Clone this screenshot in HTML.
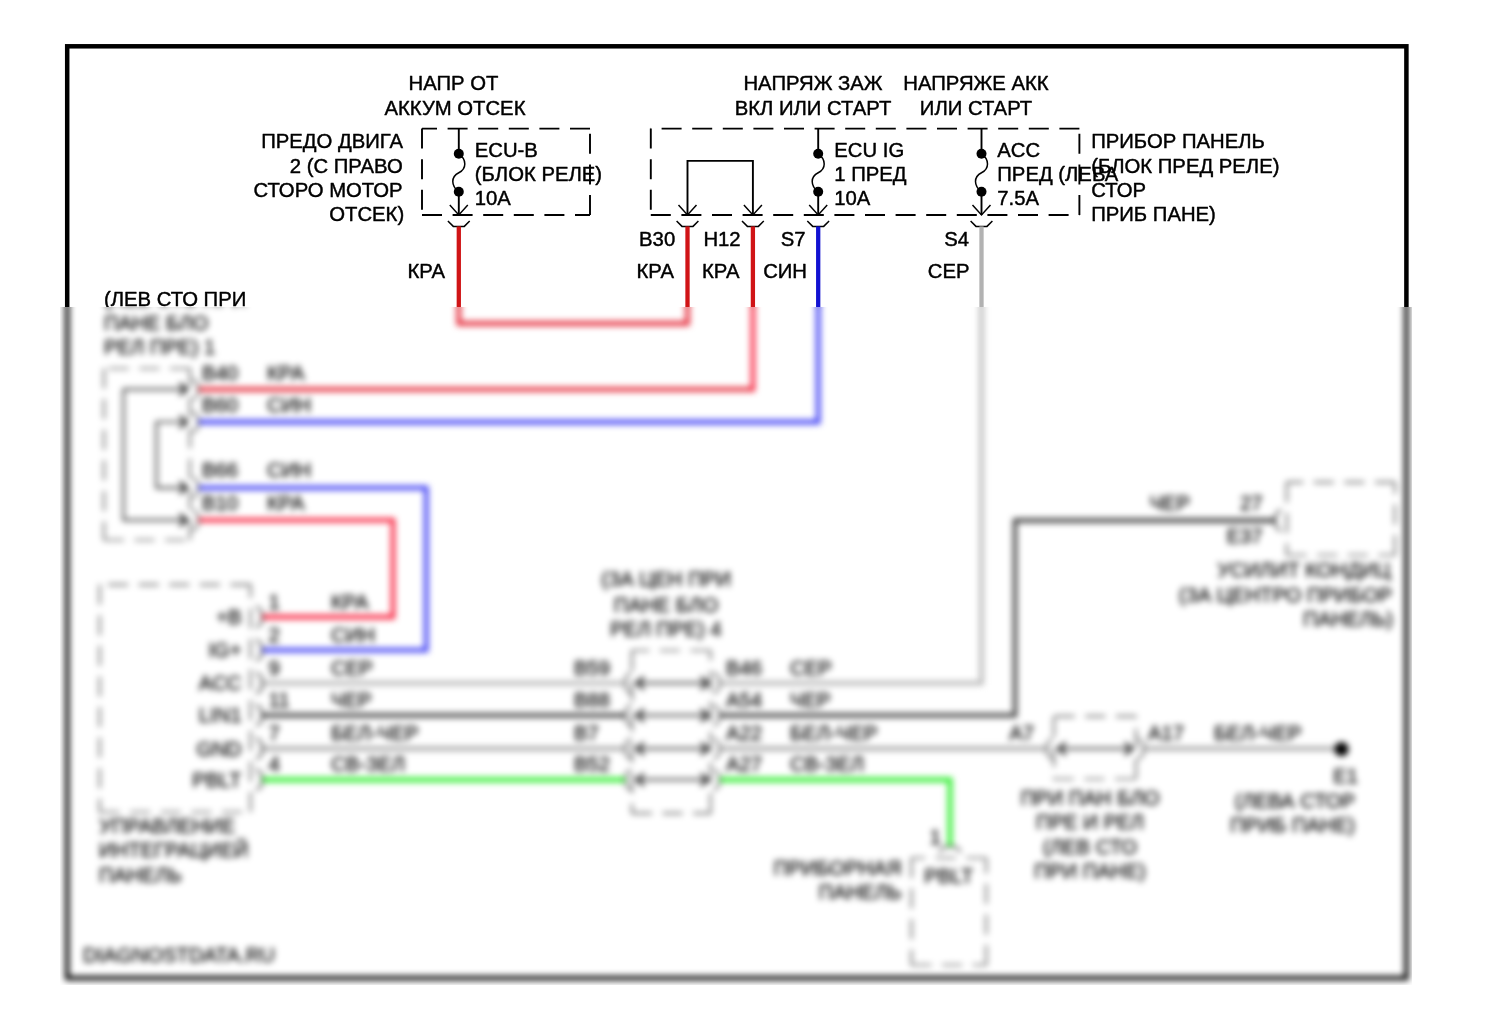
<!DOCTYPE html>
<html lang="ru">
<head>
<meta charset="utf-8">
<title>Схема электропроводки</title>
<style>
html,body{margin:0;padding:0;background:#fff}
body{width:1500px;height:1024px;overflow:hidden;position:relative}
svg{position:absolute;left:0;top:0;display:block}
text{font-family:"Liberation Sans",sans-serif;font-size:20.3px;fill:#000;stroke:#000;stroke-width:0.45px;stroke-linejoin:round}
path,line{fill:none}
.lo text{stroke-width:0.3px}
</style>
</head>
<body>
<svg width="1500" height="1024" viewBox="0 0 1500 1024">
<defs>
<filter id="frost" filterUnits="userSpaceOnUse" x="0" y="0" width="1500" height="1024" color-interpolation-filters="sRGB">
<feGaussianBlur in="SourceGraphic" stdDeviation="3.35" x="60" y="307" width="1352" height="678" result="b"/>
<feOffset in="SourceGraphic" dx="0" dy="0" x="0" y="0" width="1500" height="307" result="a"/>
<feMerge><feMergeNode in="b"/><feMergeNode in="a"/></feMerge>
</filter>
</defs>
<rect x="0" y="0" width="1500" height="1024" fill="#fff"/>
<g filter="url(#frost)">
<!-- lower part of the diagram (shown frosted) -->
<g class="lo">
<path d="M458.8,307 L458.8,323.5 L687.5,323.5 L687.5,307" stroke="#e42030" stroke-width="4.3" fill="none"/>
<path d="M198.2,389.3 L755.05,389.3" stroke="#e42030" stroke-width="4.3" fill="none"/>
<path d="M752.9,307 L752.9,391.45" stroke="#f8203c" stroke-width="4.3" fill="none"/>
<path d="M818.2,307 L818.2,422 L198.2,422" stroke="#3838f4" stroke-width="4.3" fill="none"/>
<path d="M198.2,487.8 L426.2,487.8 L426.2,650.2 L261.9,650.2" stroke="#3838f4" stroke-width="4.3" fill="none"/>
<path d="M198.2,520.1 L393,520.1 L393,617.0 L261.9,617.0" stroke="#f8203c" stroke-width="4.3" fill="none"/>
<path d="M981.5,307 L981.5,683.1 L719.4,683.1" stroke="#b6b6b6" stroke-width="4.3" fill="none"/>
<path d="M261.9,683.1 L625.4,683.1" stroke="#b6b6b6" stroke-width="4.3" fill="none"/>
<path d="M261.9,715.4 L625.4,715.4" stroke="#404040" stroke-width="4.3" fill="none"/>
<path d="M719.4,715.4 L1015,715.4 L1015,520.5 L1275.3,520.5" stroke="#404040" stroke-width="4.3" fill="none"/>
<path d="M261.9,748.7 L625.4,748.7" stroke="#a6a6a6" stroke-width="4.3" fill="none"/>
<path d="M719.4,748.7 L1047.1,748.7" stroke="#a6a6a6" stroke-width="4.3" fill="none"/>
<path d="M1143.4,748.7 L1341,748.7" stroke="#a6a6a6" stroke-width="4.3" fill="none"/>
<path d="M261.9,779.7 L625.4,779.7" stroke="#34ee34" stroke-width="5" fill="none"/>
<path d="M719.4,779.7 L950,779.7 L950,846.8" stroke="#34ee34" stroke-width="5" fill="none"/>
<circle cx="1341.5" cy="749.1" r="7.2"/>
<line x1="104" y1="368.5" x2="104" y2="540" stroke="#000" stroke-width="1.2" stroke-dasharray="20 10.6"/>
<line x1="104" y1="540" x2="190" y2="540" stroke="#000" stroke-width="1.2" stroke-dasharray="20 10.6"/>
<line x1="190" y1="540" x2="190" y2="368.5" stroke="#000" stroke-width="1.2" stroke-dasharray="20 10.6"/>
<line x1="190" y1="368.5" x2="104" y2="368.5" stroke="#000" stroke-width="1.2" stroke-dasharray="20 10.6"/>
<path d="M186.8,389.3 L123.5,389.3 L123.5,520.1 L186.8,520.1" stroke="#000" stroke-width="1.7" fill="none"/>
<path d="M186.8,422 L156.5,422 L156.5,487.8 L186.8,487.8" stroke="#000" stroke-width="1.7" fill="none"/>
<path d="M179.6,395.5 L186.8,389.3 L179.6,383.1" stroke="#000" stroke-width="2.3" fill="none"/>
<path d="M192.8,400.2 L198.2,394.8 L198.2,383.8 L192.8,378.4" stroke="#000" stroke-width="1.1" fill="none"/>
<path d="M179.6,428.2 L186.8,422 L179.6,415.8" stroke="#000" stroke-width="2.3" fill="none"/>
<path d="M192.8,432.9 L198.2,427.5 L198.2,416.5 L192.8,411.1" stroke="#000" stroke-width="1.1" fill="none"/>
<path d="M179.6,494 L186.8,487.8 L179.6,481.6" stroke="#000" stroke-width="2.3" fill="none"/>
<path d="M192.8,498.7 L198.2,493.3 L198.2,482.3 L192.8,476.9" stroke="#000" stroke-width="1.1" fill="none"/>
<path d="M179.6,526.3 L186.8,520.1 L179.6,513.9" stroke="#000" stroke-width="2.3" fill="none"/>
<path d="M192.8,531 L198.2,525.6 L198.2,514.6 L192.8,509.2" stroke="#000" stroke-width="1.1" fill="none"/>
<text x="104" y="329.6">ПАНЕ БЛО</text>
<text x="104" y="353.9">РЕЛ ПРЕ) 1</text>
<text x="202" y="379.8">B40</text>
<text x="267" y="379.8">КРА</text>
<text x="202" y="412.2">B60</text>
<text x="267" y="412.2">СИН</text>
<text x="202" y="477.2">B66</text>
<text x="267" y="477.2">СИН</text>
<text x="202" y="509.8">B10</text>
<text x="267" y="509.8">КРА</text>
<line x1="99.6" y1="584.6" x2="99.6" y2="812" stroke="#000" stroke-width="1.2" stroke-dasharray="20 10.6"/>
<line x1="99.6" y1="812" x2="250.5" y2="812" stroke="#000" stroke-width="1.2" stroke-dasharray="20 10.6"/>
<line x1="250.5" y1="812" x2="250.5" y2="584.6" stroke="#000" stroke-width="1.2" stroke-dasharray="20 10.6"/>
<line x1="250.5" y1="584.6" x2="99.6" y2="584.6" stroke="#000" stroke-width="1.2" stroke-dasharray="20 10.6"/>
<text x="99" y="833">УПРАВЛЕНИЕ</text>
<text x="99" y="857.3">ИНТЕГРАЦИЕЙ</text>
<text x="99" y="881.6">ПАНЕЛЬ</text>
<text x="241.5" y="624" text-anchor="end">+B</text>
<path d="M256.5,627.9 L261.9,622.5 L261.9,611.5 L256.5,606.1" stroke="#000" stroke-width="1.35" fill="none"/>
<text x="241.5" y="657.2" text-anchor="end">IG+</text>
<path d="M256.5,661.1 L261.9,655.7 L261.9,644.7 L256.5,639.3" stroke="#000" stroke-width="1.35" fill="none"/>
<text x="241.5" y="690.1" text-anchor="end">ACC</text>
<path d="M256.5,694 L261.9,688.6 L261.9,677.6 L256.5,672.2" stroke="#000" stroke-width="1.35" fill="none"/>
<text x="241.5" y="722.4" text-anchor="end">LIN1</text>
<path d="M256.5,726.3 L261.9,720.9 L261.9,709.9 L256.5,704.5" stroke="#000" stroke-width="1.35" fill="none"/>
<text x="241.5" y="755.7" text-anchor="end">GND</text>
<path d="M256.5,759.6 L261.9,754.2 L261.9,743.2 L256.5,737.8" stroke="#000" stroke-width="1.35" fill="none"/>
<text x="241.5" y="786.7" text-anchor="end">PBLT</text>
<path d="M256.5,790.6 L261.9,785.2 L261.9,774.2 L256.5,768.8" stroke="#000" stroke-width="1.35" fill="none"/>
<text x="268.5" y="608.5">1</text>
<text x="331" y="608.5">КРА</text>
<text x="268.5" y="641.7">2</text>
<text x="331" y="641.7">СИН</text>
<text x="268.5" y="674.6">9</text>
<text x="331" y="674.6">СЕР</text>
<text x="268.5" y="706.9">11</text>
<text x="331" y="706.9">ЧЕР</text>
<text x="268.5" y="740.2">7</text>
<text x="331" y="740.2">БЕЛ-ЧЕР</text>
<text x="268.5" y="771.2">4</text>
<text x="331" y="771.2">СВ-ЗЕЛ</text>
<line x1="632" y1="650.5" x2="632" y2="813.3" stroke="#000" stroke-width="1.2" stroke-dasharray="20 10.6"/>
<line x1="632" y1="813.3" x2="710.5" y2="813.3" stroke="#000" stroke-width="1.2" stroke-dasharray="20 10.6"/>
<line x1="710.5" y1="813.3" x2="710.5" y2="650.5" stroke="#000" stroke-width="1.2" stroke-dasharray="20 10.6"/>
<line x1="710.5" y1="650.5" x2="632" y2="650.5" stroke="#000" stroke-width="1.2" stroke-dasharray="20 10.6"/>
<text x="666" y="586.3" text-anchor="middle">(ЗА ЦЕН ПРИ</text>
<text x="666" y="611.7" text-anchor="middle">ПАНЕ БЛО</text>
<text x="666" y="636" text-anchor="middle">РЕЛ ПРЕ) 4</text>
<line x1="636.8" y1="683.1" x2="708" y2="683.1" stroke="#000" stroke-width="1.7"/>
<path d="M644,676.9 L636.8,683.1 L644,689.3" stroke="#000" stroke-width="2.3" fill="none"/>
<path d="M630.8,672.2 L625.4,677.6 L625.4,688.6 L630.8,694" stroke="#000" stroke-width="1.1" fill="none"/>
<path d="M700.8,689.3 L708,683.1 L700.8,676.9" stroke="#000" stroke-width="2.3" fill="none"/>
<path d="M714,694 L719.4,688.6 L719.4,677.6 L714,672.2" stroke="#000" stroke-width="1.1" fill="none"/>
<text x="574" y="674.6">B59</text>
<text x="726" y="674.6">B46</text>
<text x="790" y="674.6">СЕР</text>
<line x1="636.8" y1="715.4" x2="708" y2="715.4" stroke="#000" stroke-width="1.7"/>
<path d="M644,709.2 L636.8,715.4 L644,721.6" stroke="#000" stroke-width="2.3" fill="none"/>
<path d="M630.8,704.5 L625.4,709.9 L625.4,720.9 L630.8,726.3" stroke="#000" stroke-width="1.1" fill="none"/>
<path d="M700.8,721.6 L708,715.4 L700.8,709.2" stroke="#000" stroke-width="2.3" fill="none"/>
<path d="M714,726.3 L719.4,720.9 L719.4,709.9 L714,704.5" stroke="#000" stroke-width="1.1" fill="none"/>
<text x="574" y="706.9">B88</text>
<text x="726" y="706.9">A54</text>
<text x="790" y="706.9">ЧЕР</text>
<line x1="636.8" y1="748.7" x2="708" y2="748.7" stroke="#000" stroke-width="1.7"/>
<path d="M644,742.5 L636.8,748.7 L644,754.9" stroke="#000" stroke-width="2.3" fill="none"/>
<path d="M630.8,737.8 L625.4,743.2 L625.4,754.2 L630.8,759.6" stroke="#000" stroke-width="1.1" fill="none"/>
<path d="M700.8,754.9 L708,748.7 L700.8,742.5" stroke="#000" stroke-width="2.3" fill="none"/>
<path d="M714,759.6 L719.4,754.2 L719.4,743.2 L714,737.8" stroke="#000" stroke-width="1.1" fill="none"/>
<text x="574" y="740.2">B7</text>
<text x="726" y="740.2">A22</text>
<text x="790" y="740.2">БЕЛ-ЧЕР</text>
<line x1="636.8" y1="779.7" x2="708" y2="779.7" stroke="#000" stroke-width="1.7"/>
<path d="M644,773.5 L636.8,779.7 L644,785.9" stroke="#000" stroke-width="2.3" fill="none"/>
<path d="M630.8,768.8 L625.4,774.2 L625.4,785.2 L630.8,790.6" stroke="#000" stroke-width="1.1" fill="none"/>
<path d="M700.8,785.9 L708,779.7 L700.8,773.5" stroke="#000" stroke-width="2.3" fill="none"/>
<path d="M714,790.6 L719.4,785.2 L719.4,774.2 L714,768.8" stroke="#000" stroke-width="1.1" fill="none"/>
<text x="574" y="771.2">B52</text>
<text x="726" y="771.2">A27</text>
<text x="790" y="771.2">СВ-ЗЕЛ</text>
<line x1="1286.7" y1="482.4" x2="1286.7" y2="555" stroke="#000" stroke-width="1.2" stroke-dasharray="20 10.6"/>
<line x1="1286.7" y1="555" x2="1395" y2="555" stroke="#000" stroke-width="1.2" stroke-dasharray="20 10.6"/>
<line x1="1395" y1="555" x2="1395" y2="482.4" stroke="#000" stroke-width="1.2" stroke-dasharray="20 10.6"/>
<line x1="1395" y1="482.4" x2="1286.7" y2="482.4" stroke="#000" stroke-width="1.2" stroke-dasharray="20 10.6"/>
<path d="M1280.7,509.6 L1275.3,515 L1275.3,526 L1280.7,531.4" stroke="#000" stroke-width="1.35" fill="none"/>
<text x="1190" y="510" text-anchor="end">ЧЕР</text>
<text x="1262.5" y="509.5" text-anchor="end">27</text>
<text x="1262.5" y="543" text-anchor="end">E37</text>
<text x="1390.5" y="577.3" text-anchor="end" font-size="19.3">УСИЛИТ КОНДИЦ</text>
<text x="1392" y="601.6" text-anchor="end">(ЗА ЦЕНТРО ПРИБОР</text>
<text x="1393" y="625.9" text-anchor="end">ПАНЕЛЬ)</text>
<line x1="1053.8" y1="716.4" x2="1053.8" y2="779" stroke="#000" stroke-width="1.2" stroke-dasharray="20 10.6"/>
<line x1="1053.8" y1="779" x2="1136" y2="779" stroke="#000" stroke-width="1.2" stroke-dasharray="20 10.6"/>
<line x1="1136" y1="779" x2="1136" y2="716.4" stroke="#000" stroke-width="1.2" stroke-dasharray="20 10.6"/>
<line x1="1136" y1="716.4" x2="1053.8" y2="716.4" stroke="#000" stroke-width="1.2" stroke-dasharray="20 10.6"/>
<line x1="1058.5" y1="748.7" x2="1132" y2="748.7" stroke="#000" stroke-width="1.7"/>
<path d="M1065.7,742.5 L1058.5,748.7 L1065.7,754.9" stroke="#000" stroke-width="2.3" fill="none"/>
<path d="M1052.5,737.8 L1047.1,743.2 L1047.1,754.2 L1052.5,759.6" stroke="#000" stroke-width="1.1" fill="none"/>
<path d="M1124.8,754.9 L1132,748.7 L1124.8,742.5" stroke="#000" stroke-width="2.3" fill="none"/>
<path d="M1138,759.6 L1143.4,754.2 L1143.4,743.2 L1138,737.8" stroke="#000" stroke-width="1.1" fill="none"/>
<text x="1034" y="740.2" text-anchor="end">A7</text>
<text x="1148" y="740.2">A17</text>
<text x="1214" y="740.2">БЕЛ-ЧЕР</text>
<text x="1090" y="805" text-anchor="middle">ПРИ ПАН БЛО</text>
<text x="1090" y="829.3" text-anchor="middle">ПРЕ И РЕЛ</text>
<text x="1090" y="853.6" text-anchor="middle">(ЛЕВ СТО</text>
<text x="1090" y="877.9" text-anchor="middle">ПРИ ПАНЕ)</text>
<text x="1358" y="783" text-anchor="end">E1</text>
<text x="1355" y="808" text-anchor="end">(ЛЕВА СТОР</text>
<text x="1355" y="832.3" text-anchor="end">ПРИБ ПАНЕ)</text>
<line x1="911.5" y1="858" x2="911.5" y2="965" stroke="#000" stroke-width="1.2" stroke-dasharray="20 10.6"/>
<line x1="911.5" y1="965" x2="986.3" y2="965" stroke="#000" stroke-width="1.2" stroke-dasharray="20 10.6"/>
<line x1="986.3" y1="965" x2="986.3" y2="858" stroke="#000" stroke-width="1.2" stroke-dasharray="20 10.6"/>
<line x1="986.3" y1="858" x2="911.5" y2="858" stroke="#000" stroke-width="1.2" stroke-dasharray="20 10.6"/>
<path d="M960.9,852 L955.5,846.6 L944.5,846.6 L939.1,852" stroke="#000" stroke-width="1.35" fill="none"/>
<text x="948.8" y="882.5" text-anchor="middle">PBLT</text>
<text x="941" y="843.5" text-anchor="end">1</text>
<text x="901.5" y="874.5" text-anchor="end">ПРИБОРНАЯ</text>
<text x="901.5" y="898.8" text-anchor="end">ПАНЕЛЬ</text>
<text x="83" y="962" font-size="17" fill="#6a6a6a" stroke="#6a6a6a">DIAGNOSTDATA.RU</text>
</g>
<!-- upper part of the diagram -->
<rect x="67.2" y="46.3" width="1339.2" height="931.8" fill="none" stroke="#000" stroke-width="4.5"/>
<text x="453.5" y="90.4" text-anchor="middle">НАПР ОТ</text>
<text x="455" y="114.6" text-anchor="middle">АККУМ ОТСЕК</text>
<text x="813" y="90.4" text-anchor="middle">НАПРЯЖ ЗАЖ</text>
<text x="813" y="114.6" text-anchor="middle">ВКЛ ИЛИ СТАРТ</text>
<text x="976" y="90.4" text-anchor="middle">НАПРЯЖЕ АКК</text>
<text x="976" y="114.6" text-anchor="middle">ИЛИ СТАРТ</text>
<text x="403" y="148.4" text-anchor="end">ПРЕДО ДВИГА</text>
<text x="402.7" y="172.75" text-anchor="end">2 (С ПРАВО</text>
<text x="402.6" y="197.1" text-anchor="end">СТОРО МОТОР</text>
<text x="404.2" y="221.45" text-anchor="end" font-size="19.8">ОТСЕК)</text>
<text x="1091.2" y="148.4" font-size="20.1">ПРИБОР ПАНЕЛЬ</text>
<text x="1091.2" y="172.75" font-size="20.1">(БЛОК ПРЕД РЕЛЕ)</text>
<text x="1091.2" y="197.1" font-size="20.1">СТОР</text>
<text x="1091.2" y="221.45" font-size="20.1">ПРИБ ПАНЕ)</text>
<line x1="422" y1="128.6" x2="422" y2="215" stroke="#000" stroke-width="1.9" stroke-dasharray="20 10.6"/>
<line x1="422" y1="215" x2="590" y2="215" stroke="#000" stroke-width="1.9" stroke-dasharray="20 10.6"/>
<line x1="590" y1="215" x2="590" y2="128.6" stroke="#000" stroke-width="1.9" stroke-dasharray="20 10.6"/>
<line x1="590" y1="128.6" x2="422" y2="128.6" stroke="#000" stroke-width="1.9" stroke-dasharray="20 10.6"/>
<line x1="458.8" y1="128.6" x2="458.8" y2="153.7" stroke="#000" stroke-width="1.9"/>
<circle cx="458.8" cy="153.7" r="5.0"/>
<circle cx="458.8" cy="191.8" r="5.0"/>
<path d="M458.8,153.7 C466.8,159.7 466.8,168.75 458.8,172.75 C450.8,176.75 450.8,185.8 458.8,191.8" stroke="#000" stroke-width="1.5" fill="none"/>
<line x1="458.8" y1="191.8" x2="458.8" y2="215" stroke="#000" stroke-width="1.9"/>
<path d="M449.8,205.1 L458.8,215 L467.8,205.1" stroke="#000" stroke-width="1.5" fill="none"/>
<path d="M447.9,221 L453.3,226.4 L464.3,226.4 L469.7,221" stroke="#000" stroke-width="1.5" fill="none"/>
<text x="474.8" y="157.4" font-size="19.85">ECU-B</text>
<text x="474.8" y="181.4" font-size="19.85">(БЛОК РЕЛЕ)</text>
<text x="474.8" y="205.4" font-size="19.85">10A</text>
<line x1="650.8" y1="128.6" x2="650.8" y2="215" stroke="#000" stroke-width="1.9" stroke-dasharray="20 10.6"/>
<line x1="650.8" y1="215" x2="1079.4" y2="215" stroke="#000" stroke-width="1.9" stroke-dasharray="20 10.6"/>
<line x1="1079.4" y1="215" x2="1079.4" y2="128.6" stroke="#000" stroke-width="1.9" stroke-dasharray="20 10.6"/>
<line x1="1079.4" y1="128.6" x2="650.8" y2="128.6" stroke="#000" stroke-width="1.9" stroke-dasharray="20 10.6"/>
<path d="M687.5,215 L687.5,160.9 L752.9,160.9 L752.9,215" stroke="#000" stroke-width="1.9" fill="none"/>
<path d="M678.5,205.1 L687.5,215 L696.5,205.1" stroke="#000" stroke-width="1.5" fill="none"/>
<path d="M676.6,221 L682,226.4 L693,226.4 L698.4,221" stroke="#000" stroke-width="1.5" fill="none"/>
<path d="M743.9,205.1 L752.9,215 L761.9,205.1" stroke="#000" stroke-width="1.5" fill="none"/>
<path d="M742,221 L747.4,226.4 L758.4,226.4 L763.8,221" stroke="#000" stroke-width="1.5" fill="none"/>
<line x1="818.2" y1="128.6" x2="818.2" y2="153.7" stroke="#000" stroke-width="1.9"/>
<circle cx="818.2" cy="153.7" r="5.0"/>
<circle cx="818.2" cy="191.8" r="5.0"/>
<path d="M818.2,153.7 C826.2,159.7 826.2,168.75 818.2,172.75 C810.2,176.75 810.2,185.8 818.2,191.8" stroke="#000" stroke-width="1.5" fill="none"/>
<line x1="818.2" y1="191.8" x2="818.2" y2="215" stroke="#000" stroke-width="1.9"/>
<path d="M809.2,205.1 L818.2,215 L827.2,205.1" stroke="#000" stroke-width="1.5" fill="none"/>
<path d="M807.3,221 L812.7,226.4 L823.7,226.4 L829.1,221" stroke="#000" stroke-width="1.5" fill="none"/>
<line x1="981.5" y1="128.6" x2="981.5" y2="153.7" stroke="#000" stroke-width="1.9"/>
<circle cx="981.5" cy="153.7" r="5.0"/>
<circle cx="981.5" cy="191.8" r="5.0"/>
<path d="M981.5,153.7 C989.5,159.7 989.5,168.75 981.5,172.75 C973.5,176.75 973.5,185.8 981.5,191.8" stroke="#000" stroke-width="1.5" fill="none"/>
<line x1="981.5" y1="191.8" x2="981.5" y2="215" stroke="#000" stroke-width="1.9"/>
<path d="M972.5,205.1 L981.5,215 L990.5,205.1" stroke="#000" stroke-width="1.5" fill="none"/>
<path d="M970.6,221 L976,226.4 L987,226.4 L992.4,221" stroke="#000" stroke-width="1.5" fill="none"/>
<text x="834.3" y="157.4" font-size="19.9">ECU IG</text>
<text x="834.3" y="181.4" font-size="19.9">1 ПРЕД</text>
<text x="834.3" y="205.4" font-size="19.9">10A</text>
<text x="997.3" y="157.4" font-size="20">ACC</text>
<text x="997.3" y="181.4" font-size="20">ПРЕД (ЛЕВА</text>
<text x="997.3" y="205.4" font-size="20">7.5A</text>
<text x="675.2" y="245.7" text-anchor="end" font-size="19.8">B30</text>
<text x="740.6" y="245.7" text-anchor="end" font-size="19.8">H12</text>
<text x="805.6" y="245.7" text-anchor="end" font-size="19.8">S7</text>
<text x="969.1" y="245.7" text-anchor="end" font-size="19.8">S4</text>
<text x="445" y="278" text-anchor="end">КРА</text>
<text x="674" y="278" text-anchor="end">КРА</text>
<text x="739.5" y="278" text-anchor="end">КРА</text>
<text x="807" y="278" text-anchor="end">СИН</text>
<text x="969.5" y="278" text-anchor="end">СЕР</text>
<text x="104" y="305.8">(ЛЕВ СТО ПРИ</text>
<line x1="458.8" y1="226.4" x2="458.8" y2="307" stroke="#d01416" stroke-width="4.3"/>
<line x1="687.5" y1="226.4" x2="687.5" y2="307" stroke="#d01416" stroke-width="4.3"/>
<line x1="752.9" y1="226.4" x2="752.9" y2="307" stroke="#d01416" stroke-width="4.3"/>
<line x1="818.2" y1="226.4" x2="818.2" y2="307" stroke="#1212d2" stroke-width="4.3"/>
<line x1="981.5" y1="226.4" x2="981.5" y2="307" stroke="#b2b2b2" stroke-width="4.3"/>
</g>
</svg>
</body>
</html>
